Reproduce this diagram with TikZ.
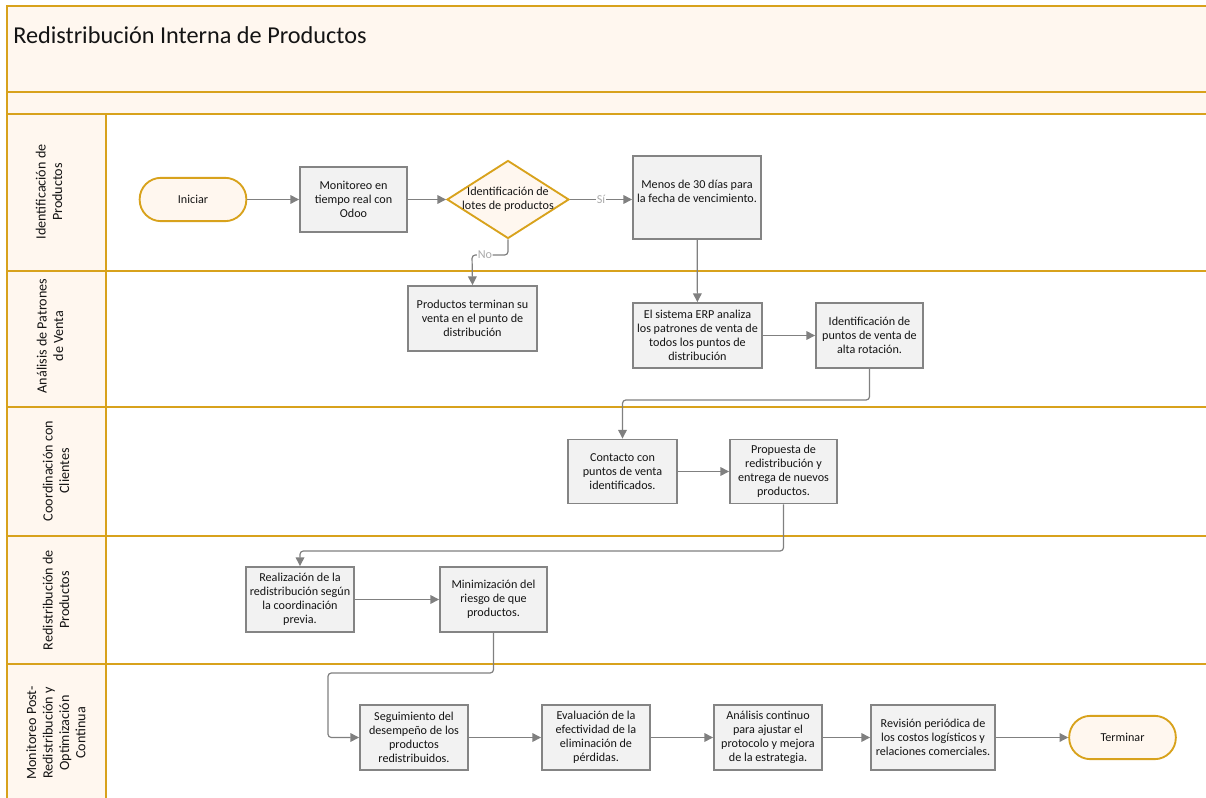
\documentclass[tikz,border=0pt]{standalone}
\usepackage{fontspec}
\setmainfont{Carlito}
\usetikzlibrary{arrows.meta,shapes.geometric}

\definecolor{laneline}{RGB}{216,162,28}
\definecolor{cream}{RGB}{255,247,239}
\definecolor{boxfill}{RGB}{242,242,242}
\definecolor{boxline}{RGB}{132,132,132}
\definecolor{wire}{RGB}{128,128,128}
\definecolor{tagtext}{RGB}{170,170,170}

\tikzset{
  lanerule/.style={draw=laneline, line width=1.7pt},
  boxtext/.style={font=\fontsize{9.1}{10.6}\selectfont, align=center, text=black!92},
  process/.style={boxtext, draw=boxline, fill=boxfill, line width=1.4pt, inner sep=1pt},
  terminal/.style={boxtext, draw=laneline, fill=cream, line width=1.4pt,
    rounded corners=16pt, minimum width=80pt, minimum height=32.5pt},
  decision/.style={diamond, draw=laneline, fill=cream, line width=1.4pt, inner sep=0pt,
    minimum width=91.5pt, minimum height=58.5pt},
  conn/.style={draw=wire, line width=0.9pt, rounded corners=2.5pt,
    -{Triangle[length=6.5pt,width=6.5pt]}},
  tag/.style={font=\fontsize{9.1}{10.6}\selectfont, text=tagtext, fill=white, inner sep=0.5pt},
  lanehead/.style={font=\fontsize{10.6}{12.3}\selectfont, align=center, rotate=90, text=black!92},
}

\begin{document}
\begin{tikzpicture}[x=0.75pt,y=-0.75pt]
\useasboundingbox (0,0) rectangle (1206,798);

% title bands and lane header column
\fill[cream] (7,6) rectangle (1206,114);
\fill[cream] (7,114) rectangle (106,798);

% pool frame and lane separators
\draw[lanerule] (1206,6) -- (7,6) -- (7,798);
\draw[lanerule] (7,92) -- (1206,92);
\draw[lanerule] (7,114) -- (1206,114);
\draw[lanerule] (7,271) -- (1206,271);
\draw[lanerule] (7,407) -- (1206,407);
\draw[lanerule] (7,536) -- (1206,536);
\draw[lanerule] (7,664) -- (1206,664);
\draw[lanerule] (106,114) -- (106,798);

% title
\node[anchor=west, font=\fontsize{18.2}{21}\selectfont, text=black!92, inner sep=0pt]
  (title) at (13,35) {Redistribución Interna de Productos};

% lane headers
\node[lanehead] (h1) at (49,192) {Identificación de\\Productos};
\node[lanehead] (h2) at (50,336) {Análisis de Patrones\\de Venta};
\node[lanehead] (h3) at (56,471) {Coordinación con\\Clientes};
\node[lanehead] (h4) at (56,600) {Redistribución de\\Productos};
\node[lanehead] (h5) at (56,733) {Monitoreo Post-\\Redistribución y\\Optimización\\Continua};

% lane 1: identification
\node[terminal] (ini) at (193,199.5) {Iniciar};
\node[process, minimum width=80.25pt, minimum height=48.75pt] (mon) at (353.5,199.5)
  {Monitoreo en\\tiempo real con\\Odoo};
\node[decision] (dec) at (508,199.5) {};
\node[boxtext] (dectext) at (508,199.5) {Identificación de\\lotes de productos};
\node[process, minimum width=96pt, minimum height=62.25pt] (menos) at (697,197.5) {};
\node[boxtext] (menostext) at (697,191.5) {Menos de 30 días para\\la fecha de vencimiento.};

% lane 2: sales pattern analysis
\node[process, minimum width=96.75pt, minimum height=48.75pt] (prod) at (472.5,318.5)
  {Productos terminan su\\venta en el punto de\\distribución};
\node[process, minimum width=96.75pt, minimum height=48.75pt] (erp) at (697.5,335.5)
  {El sistema ERP analiza\\los patrones de venta de\\todos los puntos de\\distribución};
\node[process, minimum width=80.25pt, minimum height=48.75pt] (idp) at (869.5,335.5)
  {Identificación de\\puntos de venta de\\alta rotación.};

% lane 3: client coordination
\node[process, minimum width=81.75pt, minimum height=48pt] (cont) at (622.5,471.5)
  {Contacto con\\puntos de venta\\identificados.};
\node[process, minimum width=80.25pt, minimum height=48pt] (prop) at (783.5,471.5)
  {Propuesta de\\redistribución y\\entrega de nuevos\\productos.};

% lane 4: redistribution
\node[process, minimum width=81pt, minimum height=48.75pt] (real) at (300,599.5)
  {Realización de la\\redistribución según\\la coordinación\\previa.};
\node[process, minimum width=80.25pt, minimum height=48.75pt] (mini) at (493.5,599.5)
  {Minimización del\\riesgo de que\\productos.};

% lane 5: follow-up and optimisation
\node[process, minimum width=81pt, minimum height=48.75pt] (seg) at (414,737.5)
  {Seguimiento del\\desempeño de los\\productos\\redistribuidos.};
\node[process, minimum width=81pt, minimum height=48.75pt] (eva) at (596,737.5)
  {Evaluación de la\\efectividad de la\\eliminación de\\pérdidas.};
\node[process, minimum width=81pt, minimum height=48.75pt] (ana) at (768,737.5)
  {Análisis continuo\\para ajustar el\\protocolo y mejora\\de la estrategia.};
\node[process, minimum width=93pt, minimum height=48.75pt] (rev) at (933,737.5)
  {Revisión periódica de\\los costos logísticos y\\relaciones comerciales.};
\node[terminal] (fin) at (1122.5,737.5) {Terminar};

% routing points for elbow connectors
\coordinate (bendNo) at (472,255);
\coordinate (bendA) at (0,400);
\coordinate (bendB) at (0,551);
\coordinate (bendC) at (328,673);

% connectors
\draw[conn] (ini) -- (mon);
\draw[conn] (mon) -- (dec);
\draw[conn] (dec.east) -- node[tag] (si) {Sí} (dec.east -| menos.west);
\draw[conn] (dec.south) |- node[tag, pos=0.82] (no) {No} (bendNo) -- (prod.north);
\draw[conn] (menos) -- (erp);
\draw[conn] (erp) -- (idp);
\draw[conn] (idp.south) -- (idp.south |- bendA) -| (cont.north);
\draw[conn] (cont) -- (prop);
\draw[conn] (prop.south) -- (prop.south |- bendB) -| (real.north);
\draw[conn] (real) -- (mini);
\draw[conn] (mini.south) -- (mini.south |- bendC) -- (bendC) |- (seg.west);
\draw[conn] (seg) -- (eva);
\draw[conn] (eva) -- (ana);
\draw[conn] (ana) -- (rev);
\draw[conn] (rev) -- (fin);
\end{tikzpicture}
\end{document}
